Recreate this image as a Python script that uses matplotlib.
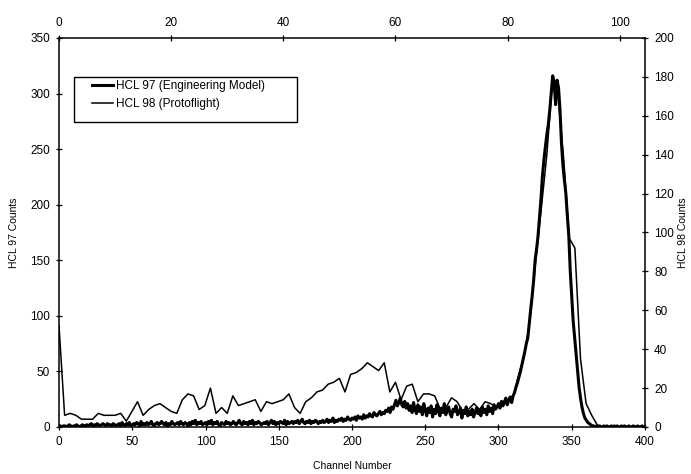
import numpy as np
import matplotlib
matplotlib.use('Agg')
import matplotlib.pyplot as plt
from matplotlib.patches import Rectangle

plt.rcParams['font.family'] = ['Liberation Sans', 'DejaVu Sans']

# HCL 97 (Engineering Model): counts per channel, bottom / left axes
hcl97_counts = [
    0, 1, 0, 1, 1, 0, 1, 2, 1, 0, 1, 1, 2, 1, 0, 1, 2, 1, 1, 2,
    1, 2, 3, 1, 2, 1, 3, 2, 1, 2, 3, 2, 1, 3, 2, 2, 1, 3, 2, 1,
    2, 3, 1, 4, 2, 1, 3, 2, 4, 1, 2, 3, 2, 4, 3, 1, 5, 2, 3, 2,
    4, 2, 3, 5, 2, 1, 3, 4, 2, 3, 5, 3, 2, 4, 1, 3, 2, 5, 3, 2,
    3, 4, 2, 5, 3, 2, 4, 3, 1, 4, 2, 5, 3, 6, 2, 4, 3, 5, 2, 3,
    4, 2, 5, 3, 6, 2, 4, 3, 5, 2, 1, 4, 3, 2, 5, 3, 4, 2, 3, 5,
    3, 2, 4, 6, 3, 2, 5, 3, 4, 2, 5, 3, 6, 2, 4, 3, 5, 4, 2, 3,
    4, 3, 5, 2, 4, 6, 3, 5, 2, 4, 3, 5, 4, 3, 6, 2, 5, 3, 4, 5,
    3, 5, 4, 6, 3, 5, 7, 4, 3, 5, 4, 6, 3, 5, 4, 6, 5, 3, 5, 4,
    6, 4, 5, 7, 4, 6, 5, 8, 4, 6, 5, 7, 6, 8, 5, 7, 6, 9, 7, 6,
    8, 7, 9, 6, 10, 8, 9, 7, 11, 8, 10, 9, 12, 10, 9, 13, 11, 10, 12, 14,
    11, 13, 12, 15, 14, 17, 13, 18, 16, 20, 24, 19, 22, 26, 20, 18, 23, 17, 21, 15,
    19, 13, 22, 16, 12, 20, 14, 18, 11, 21, 15, 10, 17, 13, 19, 9, 16, 12, 20, 14,
    10, 17, 13, 21, 11, 15, 18, 12, 9, 16, 14, 19, 11, 13, 17, 8, 15, 12, 18, 10,
    14, 11, 16, 9, 13, 17, 12, 15, 10, 18, 13, 16, 11, 19, 14, 17, 12, 20, 16, 18,
    21, 17, 23, 19, 22, 26, 20, 24, 27, 22, 28, 31, 36, 40, 45, 50, 56, 62, 68, 75,
    80, 93, 106, 118, 132, 150, 160, 172, 188, 205, 226, 240, 252, 263, 272, 285, 300, 316, 310, 290,
    312, 305, 285, 255, 235, 222, 210, 190, 172, 140, 118, 95, 80, 65, 50, 36, 26, 18, 12, 8,
    6, 4, 3, 2, 1, 1, 0, 1, 0, 1, 0, 0, 1, 0, 1, 0, 0, 1, 0, 1,
    0, 1, 0, 0, 1, 0, 1, 0, 0, 1, 0, 0, 1, 0, 0, 1, 0, 0, 1, 0,
]
hcl97_channels = np.arange(len(hcl97_counts))

# HCL 98 (Protoflight): counts per channel, top / right axes
hcl98_counts = [
    52, 6, 7, 6, 4, 4, 4, 7, 6, 6,
    6, 7, 3, 8, 13, 6, 9, 11, 12, 10,
    8, 7, 14, 17, 16, 9, 11, 20, 7, 10,
    7, 16, 11, 12, 13, 14, 8, 13, 12, 13,
    14, 17, 10, 7, 13, 15, 18, 19, 22, 23,
    25, 18, 27, 28, 30, 33, 31, 29, 33, 18,
    23, 14, 21, 22, 13, 17, 17, 16, 9, 10,
    15, 13, 8, 9, 12, 9, 13, 12, 10, 13,
    14, 16, 27, 37, 55, 85, 112, 140, 178, 170,
    138, 97, 92, 35, 12, 6, 1, 0, 0, 0,
    0, 0, 0, 0, 0,
]
hcl98_channels = np.arange(len(hcl98_counts))

bottom_ticks = [0, 50, 100, 150, 200, 250, 300, 350, 400]
top_ticks = [0, 20, 40, 60, 80, 100]
left_ticks = [0, 50, 100, 150, 200, 250, 300, 350]
right_ticks = [0, 20, 40, 60, 80, 100, 120, 140, 160, 180, 200]

fig = plt.figure(figsize=(6.91, 4.74), dpi=100)
rect = [0.0854, 0.0992, 0.848, 0.8207]
ax = fig.add_axes(rect)
ax2 = fig.add_axes(rect, frameon=False)

line97, = ax.plot(hcl97_channels, hcl97_counts, color='black', lw=2.2,
                  solid_joinstyle='round')
line98, = ax2.plot(hcl98_channels, hcl98_counts, color='black', lw=1.1)

ax.set_xlim(0, 400)
ax.set_ylim(0, 350)
ax.set_xticks(bottom_ticks)
ax.set_yticks(left_ticks)
ax2.set_xlim(0, 104.5)
ax2.set_ylim(0, 200)
ax2.set_xticks(top_ticks)
ax2.set_yticks(right_ticks)

ax2.xaxis.set_ticks_position('top')
ax2.xaxis.set_label_position('top')
ax2.yaxis.set_ticks_position('right')
ax2.yaxis.set_label_position('right')

for a in (ax, ax2):
    a.tick_params(direction='inout', length=5, width=0.9, labelsize=8.5,
                  colors='black', pad=4)
for s in ax.spines.values():
    s.set_linewidth(1.1)
    s.set_color('black')

ax.set_xlabel('Channel Number', fontsize=7.5, labelpad=9)
ax.set_ylabel('HCL 97 Counts', fontsize=7.5, labelpad=8)
ax2.set_ylabel('HCL 98 Counts', fontsize=7.5, labelpad=3)

# legend with a manual frame to match the wide padding
fig.legend([line97, line98], ['HCL 97 (Engineering Model)', 'HCL 98 (Protoflight)'],
           loc='upper left', bbox_to_anchor=(92 / 691, 1 - 80 / 474),
           frameon=False, fontsize=8.5, handlelength=1.8, handletextpad=0.25,
           labelspacing=0.55, borderpad=0, borderaxespad=0)
fig.patches.append(Rectangle((74 / 691, 1 - 122 / 474), 223 / 691, 45 / 474,
                             transform=fig.transFigure, fill=False,
                             edgecolor='black', lw=1.0))

fig.savefig('out.png', dpi=100, facecolor='white')
